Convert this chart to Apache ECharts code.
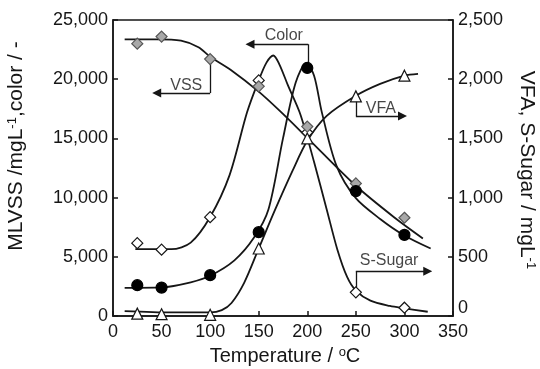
<!DOCTYPE html>
<html>
<head>
<meta charset="utf-8">
<script src="https://cdn.jsdelivr.net/npm/echarts@6/dist/echarts.min.js"></script>
<style>
  html, body { margin: 0; padding: 0; background: #fff; }
  #chart { width: 540px; height: 369px; }
</style>
</head>
<body>
<div id="chart"></div>
<script>
// Measured points at each hydrothermal temperature (°C)
const temperatures = [25, 50, 100, 150, 200, 250, 300];
const vss    = [23000, 23600, 21700, 19400, 16000, 11200, 8300];   // mg/L (left axis)
const color  = [2600, 2400, 3450, 7080, 20950, 10550, 6850];       // - (left axis)
const sSugar = [615, 560, 835, 1990, 1550, 200, 70];               // mg/L (right axis)
const vfa    = [20, 15, 10, 570, 1500, 1855, 2030];                // mg/L (right axis)

// Fitted trend curves: [temperature, value]
const vssCurve = [[12, 23370], [45, 23370], [70, 23250], [88, 22700], [100, 21900], [121, 20800],
  [150, 18950], [172, 17300], [200, 15050], [250, 11000], [290, 8300], [319, 6550]];
const colorCurve = [[12, 2380], [50, 2420], [80, 2850], [100, 3400], [125, 4700], [145, 6600],
  [160, 9000], [175, 15000], [188, 19700], [199, 21350], [207, 20300], [215, 17200], [230, 12700],
  [250, 9950], [275, 8200], [300, 6800], [327, 5700]];
const sSugarCurve = [[23, 564], [60, 564], [80, 620], [100, 836], [120, 1190], [138, 1720],
  [150, 1990], [158, 2140], [165, 2200], [171, 2130], [180, 1950], [193, 1700], [207, 1300],
  [220, 900], [231, 560], [241, 330], [250, 215], [265, 130], [285, 85], [300, 65], [324, 36]];
const vfaCurve = [[12, 42], [60, 30], [100, 30], [112, 50], [122, 110], [135, 280], [150, 570],
  [167, 900], [185, 1230], [200, 1480], [220, 1690], [250, 1860], [275, 1960], [300, 2030], [314, 2045]];

// Tick values
const xTicks = { min: 0, max: 350, step: 50 };
const leftTicks = { min: 0, max: 25000, step: 5000 };
const rightTicks = { min: 0, max: 2500, step: 500 };

// Callout labels and their bracket arrows (axis 0 = left, 1 = right)
const calloutNames = ['VSS', 'Color', 'VFA', 'S-Sugar'];
const calloutAxis = [0, 0, 1, 1];
const calloutText = [[75.4, 19450], [175.8, 23680], [275.7, 1755], [284.2, 465]];
const calloutPaths = [
  [[100, 21500], [100, 18830], [45, 18830]],
  [[201, 21300], [201, 22950], [141, 22950]],
  [[250, 1830], [250, 1690], [298, 1690]],
  [[250, 240], [250, 379], [324, 379]]
];

const INK = '#161616';
const FONT = 'Liberation Sans, Arial, Helvetica, sans-serif';

function pair(xs, ys) { return xs.map((x, i) => [x, ys[i]]); }

function curve(name, data, axis) {
  return {
    name, type: 'line', yAxisIndex: axis, data, showSymbol: false, symbol: 'none',
    smooth: 0.3, silent: true, z: 2,
    lineStyle: { color: INK, width: 1.8 }
  };
}

function points(name, data, axis, symbol, fill, stroke, size) {
  return {
    name, type: 'scatter', yAxisIndex: axis, data, symbol, symbolSize: size, z: 5,
    itemStyle: { color: fill, borderColor: stroke, borderWidth: 1.2, opacity: 1 }
  };
}

// Each bracket: plain leading segments, arrow-tipped final segment
function segments(axis, arrow) {
  const out = [];
  calloutPaths.forEach((p, i) => {
    if (calloutAxis[i] !== axis) return;
    for (let k = 0; k < p.length - 1; k++) {
      const last = k === p.length - 2;
      if (last === arrow) out.push({ coords: [p[k], p[k + 1]] });
    }
  });
  return {
    type: 'lines', coordinateSystem: 'cartesian2d', xAxisIndex: 0, yAxisIndex: axis,
    silent: true, z: 4,
    symbol: arrow ? ['none', 'triangle'] : ['none', 'none'], symbolSize: [7, 9],
    lineStyle: { color: INK, width: 1.3, opacity: 1, curveness: 0 },
    data: out
  };
}
const bracketSeries = [segments(0, false), segments(0, true), segments(1, false), segments(1, true)];

const labelSeries = [0, 1].map(axis => ({
  type: 'scatter', yAxisIndex: axis, symbolSize: 1, silent: true, z: 6,
  itemStyle: { color: 'transparent' },
  label: {
    show: true, position: 'inside', formatter: p => p.name,
    fontFamily: FONT, fontSize: 16, color: INK
  },
  data: calloutNames.map((n, i) => ({ name: n, value: calloutText[i], axis: calloutAxis[i] }))
    .filter(d => d.axis === axis).map(d => ({ name: d.name, value: d.value }))
}));

const axisCommon = {
  axisLine: { show: true, onZero: false, lineStyle: { color: INK, width: 1.5 } },
  axisTick: { show: true, inside: true, length: 5, lineStyle: { color: INK, width: 1.5 } },
  splitLine: { show: false }
};

const chart = echarts.init(document.getElementById('chart'), null, { renderer: 'canvas' });

chart.setOption({
  animation: false,
  backgroundColor: '#fff',
  grid: { left: 113, right: 87, top: 20, bottom: 53, show: true, borderColor: INK, borderWidth: 1.5 },
  xAxis: Object.assign({
    type: 'value', min: xTicks.min, max: xTicks.max, interval: xTicks.step,
    axisLabel: { fontFamily: FONT, fontSize: 18, color: INK, margin: 7 }
  }, axisCommon),
  yAxis: [
    Object.assign({
      type: 'value', position: 'left', min: leftTicks.min, max: leftTicks.max, interval: leftTicks.step,
      axisLabel: {
        fontFamily: FONT, fontSize: 18, color: INK, margin: 5,
        formatter: v => v.toLocaleString('en-US')
      }
    }, axisCommon),
    Object.assign({
      type: 'value', position: 'right', min: rightTicks.min, max: rightTicks.max, interval: rightTicks.step,
      axisLabel: {
        fontFamily: FONT, fontSize: 18, color: INK, margin: 5,
        formatter: v => v === 0 ? '{z|0}' : v.toLocaleString('en-US'),
        rich: { z: { fontFamily: FONT, fontSize: 18, color: INK, padding: [0, 0, 16, 0] } }
      }
    }, axisCommon)
  ],
  graphic: [
    {
      type: 'text', x: 16, y: 146, rotation: Math.PI / 2,
      style: {
        text: '{t|MLVSS /mgL}{s|-1}{t|,color / -}', align: 'center', verticalAlign: 'middle',
        rich: {
          t: { fontFamily: FONT, fontSize: 21, fill: INK, color: INK },
          s: { fontFamily: FONT, fontSize: 13, fill: INK, color: INK, verticalAlign: 'top' }
        }
      }
    },
    {
      type: 'text', x: 527, y: 170, rotation: -Math.PI / 2,
      style: {
        text: '{t|VFA, S-Sugar / mgL}{s|-1}', align: 'center', verticalAlign: 'middle',
        rich: {
          t: { fontFamily: FONT, fontSize: 21, fill: INK, color: INK },
          s: { fontFamily: FONT, fontSize: 13, fill: INK, color: INK, verticalAlign: 'top' }
        }
      }
    },
    {
      type: 'text', x: 285, y: 356,
      style: {
        text: '{t|Temperature / }{s|o}{t|C}', align: 'center', verticalAlign: 'middle',
        rich: {
          t: { fontFamily: FONT, fontSize: 20, fill: INK, color: INK },
          s: { fontFamily: FONT, fontSize: 13, fill: INK, color: INK, verticalAlign: 'top' }
        }
      }
    }
  ],
  series: [
    curve('VSS fit', vssCurve, 0),
    curve('Color fit', colorCurve, 0),
    curve('S-Sugar fit', sSugarCurve, 1),
    curve('VFA fit', vfaCurve, 1),
    ...bracketSeries,
    points('S-Sugar', pair(temperatures, sSugar), 1, 'diamond', '#fff', INK, 11),
    points('VFA', pair(temperatures, vfa), 1, 'triangle', '#fff', INK, 11),
    points('VSS', pair(temperatures, vss), 0, 'diamond', '#a8a8a8', '#555', 11),
    points('Color', pair(temperatures, color), 0, 'circle', '#000', '#000', 11),
    ...labelSeries
  ]
});
</script>
</body>
</html>
